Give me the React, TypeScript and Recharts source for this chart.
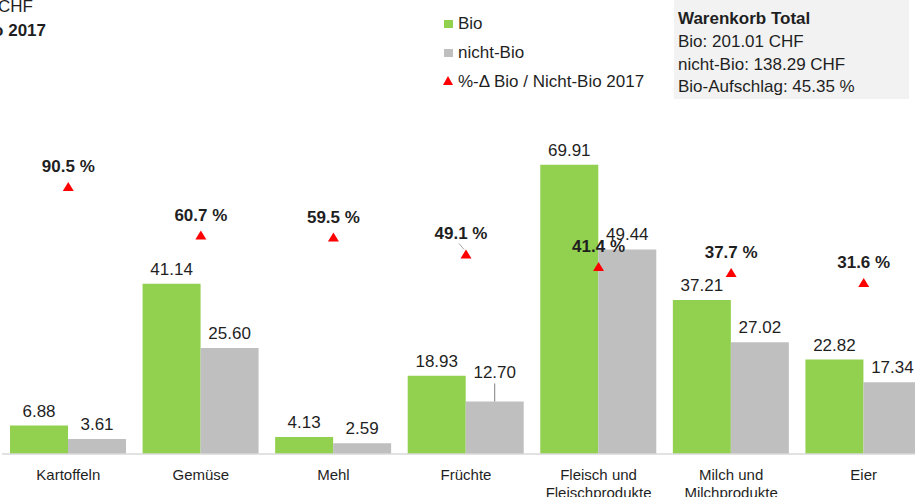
import { ComposedChart, Bar, Line, XAxis, YAxis, LabelList } from "recharts"

const categories = [
  "Kartoffeln",
  "Gemüse",
  "Mehl",
  "Früchte",
  "Fleisch und\nFleischprodukte",
  "Milch und\nMilchprodukte",
  "Eier",
]
const bioValues = [6.88, 41.14, 4.13, 18.93, 69.91, 37.21, 22.82]
const nichtBioValues = [3.61, 25.6, 2.59, 12.7, 49.44, 27.02, 17.34]
const deltaPct = [90.5, 60.7, 59.5, 49.1, 41.4, 37.7, 31.6]

const legendItems = ["Bio", "nicht-Bio", "%-Δ Bio / Nicht-Bio 2017"]
const totalLines = ["Bio: 201.01 CHF", "nicht-Bio: 138.29 CHF", "Bio-Aufschlag: 45.35 %"]

const GREEN = "#92d050"
const GREY = "#bfbfbf"
const RED = "#ff0000"
const TEXT = "#1f1f1f"
const FONT = "'Liberation Sans', Arial, sans-serif"

const data = categories.map((c, i) => ({
  name: c,
  bio: bioValues[i],
  nichtBio: nichtBioValues[i],
  pct: deltaPct[i],
}))

function CategoryTick(props: any) {
  const { x, y, payload } = props
  const lines = String(payload.value).split("\n")
  return (
    <text x={x} y={y + 18} textAnchor="middle" fontSize={15} fill={TEXT} fontFamily={FONT}>
      {lines.map((l, i) => (
        <tspan key={i} x={x} dy={i === 0 ? 0 : 18}>
          {l}
        </tspan>
      ))}
    </text>
  )
}

function BioLabel(props: any) {
  const { x, y, width, value } = props
  return (
    <text x={x + width / 2} y={y - 9} textAnchor="middle" fontSize={17} fill={TEXT} fontFamily={FONT}>
      {Number(value).toFixed(2)}
    </text>
  )
}

function NichtBioLabel(props: any) {
  const { x, y, width, value, index } = props
  const cx = x + width / 2
  // Früchte label sits higher with a leader line
  if (index === 3) {
    return (
      <g>
        <line x1={cx} y1={y - 18} x2={cx} y2={y} stroke="#7f7f7f" strokeWidth={1} />
        <text x={cx} y={y - 23} textAnchor="middle" fontSize={17} fill={TEXT} fontFamily={FONT}>
          {Number(value).toFixed(2)}
        </text>
      </g>
    )
  }
  return (
    <text x={cx} y={y - 9} textAnchor="middle" fontSize={17} fill={TEXT} fontFamily={FONT}>
      {Number(value).toFixed(2)}
    </text>
  )
}

function Triangle(props: any) {
  const { cx, cy, index } = props
  if (cx == null || cy == null) return <g key={index} />
  return (
    <path
      key={index}
      d={`M${cx},${cy - 5} L${cx + 5.5},${cy + 4} L${cx - 5.5},${cy + 4} Z`}
      fill={RED}
    />
  )
}

function PctLabel(props: any) {
  const { x, y, value, index } = props
  const dx = index === 3 ? -5 : 0
  return (
    <g>
      {index === 3 && (
        <line x1={x - 7} y1={y - 11} x2={x - 2} y2={y - 5} stroke="#a6a6a6" strokeWidth={1} />
      )}
      <text
        x={x + dx}
        y={y - 15}
        textAnchor="middle"
        fontSize={17}
        fontWeight="bold"
        fill={TEXT}
        fontFamily={FONT}
      >
        {Number(value).toFixed(1)} %
      </text>
    </g>
  )
}

export default function App() {
  return (
    <div
      style={{
        position: "absolute",
        left: 0,
        top: 0,
        width: 915,
        height: 497,
        overflow: "hidden",
        background: "#fff",
        fontFamily: FONT,
      }}
    >
      <svg width={915} height={110} style={{ position: "absolute", left: 0, top: 0 }}>
        <text x={33} y={12} textAnchor="end" fontSize={17} fill={TEXT} fontFamily={FONT}>
          Preise in CHF
        </text>
        <text x={46} y={36} textAnchor="end" fontSize={17} fontWeight="bold" fill={TEXT} fontFamily={FONT}>
          Bio / Nicht-Bio 2017
        </text>

        <rect x={444} y={20} width={9} height={8} fill={GREEN} />
        <rect x={444} y={49} width={9} height={8} fill={GREY} />
        <path d="M448,76 L453,85 L443,85 Z" fill={RED} />
        {legendItems.map((t, i) => (
          <text key={t} x={458} y={29 + i * 29} fontSize={17} fill={TEXT} fontFamily={FONT}>
            {t}
          </text>
        ))}

        <rect x={674} y={0} width={235} height={99} fill="#f2f2f2" />
        <text x={678} y={24} fontSize={17} fontWeight="bold" fill={TEXT} fontFamily={FONT}>
          Warenkorb Total
        </text>
        {totalLines.map((t, i) => (
          <text key={t} x={678} y={47 + i * 22.5} fontSize={17} fill={TEXT} fontFamily={FONT}>
            {t}
          </text>
        ))}
      </svg>

      <div style={{ position: "absolute", left: 0, top: 0 }}>
        <ComposedChart
          width={935}
          height={497}
          data={data}
          margin={{ top: 123, right: 5, left: 2, bottom: 0 }}
          barCategoryGap={8}
          barGap={0}
        >
          <XAxis
            dataKey="name"
            height={43}
            interval={0}
            tickLine={false}
            axisLine={{ stroke: "#d9d9d9", strokeWidth: 1.5 }}
            tick={<CategoryTick />}
          />
          <YAxis yAxisId="left" hide domain={[0, 80]} />
          <YAxis yAxisId="right" orientation="right" hide domain={[-73.3, 129.75]} />
          <Bar yAxisId="left" dataKey="bio" fill={GREEN} isAnimationActive={false}>
            <LabelList dataKey="bio" content={<BioLabel />} />
          </Bar>
          <Bar yAxisId="left" dataKey="nichtBio" fill={GREY} isAnimationActive={false}>
            <LabelList dataKey="nichtBio" content={<NichtBioLabel />} />
          </Bar>
          <Line
            yAxisId="right"
            dataKey="pct"
            stroke="none"
            dot={Triangle}
            activeDot={false}
            isAnimationActive={false}
          >
            <LabelList dataKey="pct" content={<PctLabel />} />
          </Line>
        </ComposedChart>
      </div>
    </div>
  )
}
